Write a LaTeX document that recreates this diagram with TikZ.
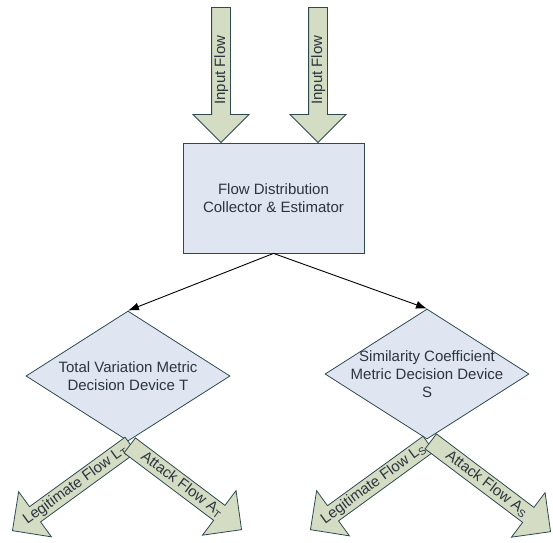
\documentclass[tikz,border=0pt]{standalone}
\usepackage{fontspec}
\setmainfont{Liberation Sans}
\usetikzlibrary{shapes.geometric,shapes.arrows,arrows.meta}
\definecolor{edge}{HTML}{2E4A50}
\definecolor{boxfill}{HTML}{DFE6F2}
\definecolor{flowfill}{HTML}{D4DCC4}
\definecolor{ink}{HTML}{2B3540}

\begin{document}
\begin{tikzpicture}[
x=1pt, y=-1pt,
font=\fontsize{15}{18}\selectfont,
text=ink,
->, >={Latex[length=11pt,width=8pt]},
]
% \draw [help lines] (0,0) grid (553,542);

\tikzset{
	blk/.style={draw=edge, fill=boxfill, thick, minimum width=181pt, minimum height=110pt, align=center},
	dec/.style={diamond, draw=edge, fill=boxfill, thick, minimum width=204pt, minimum height=130pt, inner sep=0pt},
	flow/.style={single arrow, draw=edge, fill=flowfill, thick, text height=11pt, text depth=3pt,
		inner xsep=2pt, inner ysep=2pt, single arrow head extend=18.5pt, anchor=tip},
	dn/.style={flow, rotate=90, shape border rotate=180},
	sw/.style={flow, rotate=36, shape border rotate=180},
	se/.style={flow, rotate=-37},
	link/.style={black, line width=0.9pt},
}

\useasboundingbox (0,0) rectangle (553,542);

% input flows
\node[dn, minimum height=135pt] (in1) at (221,143) {Input Flow};
\node[dn, minimum height=135pt] (in2) at (318,143) {Input Flow};

\node[blk] (est) at (273.5,198) {Flow Distribution\\Collector \& Estimator};

\node[dec] (tv) at (128,376) {};
\node[align=center] (tvtext) at (tv) {Total Variation Metric\\Decision Device T};
\node[dec] (sc) at (427,374) {};
\node[align=center] (sctext) at (sc.center) {Similarity Coefficient\\Metric Decision Device\\S};

\draw[link] (est.south) -- (tv.north);
\draw[link] (est.south) -- (sc.north);

% output flows
\node[sw, minimum height=146pt] (lt) at (12,531) {Legitimate Flow L\textsubscript{T}};
\node[se, minimum height=140pt] (at) at (242,530) {Attack Flow A\textsubscript{T}};
\node[sw, minimum height=146pt] (ls) at (310,530) {Legitimate Flow L\textsubscript{S}};
\node[se, minimum height=150pt] (as) at (551,532) {Attack Flow A\textsubscript{S}};

\end{tikzpicture}
\end{document}
